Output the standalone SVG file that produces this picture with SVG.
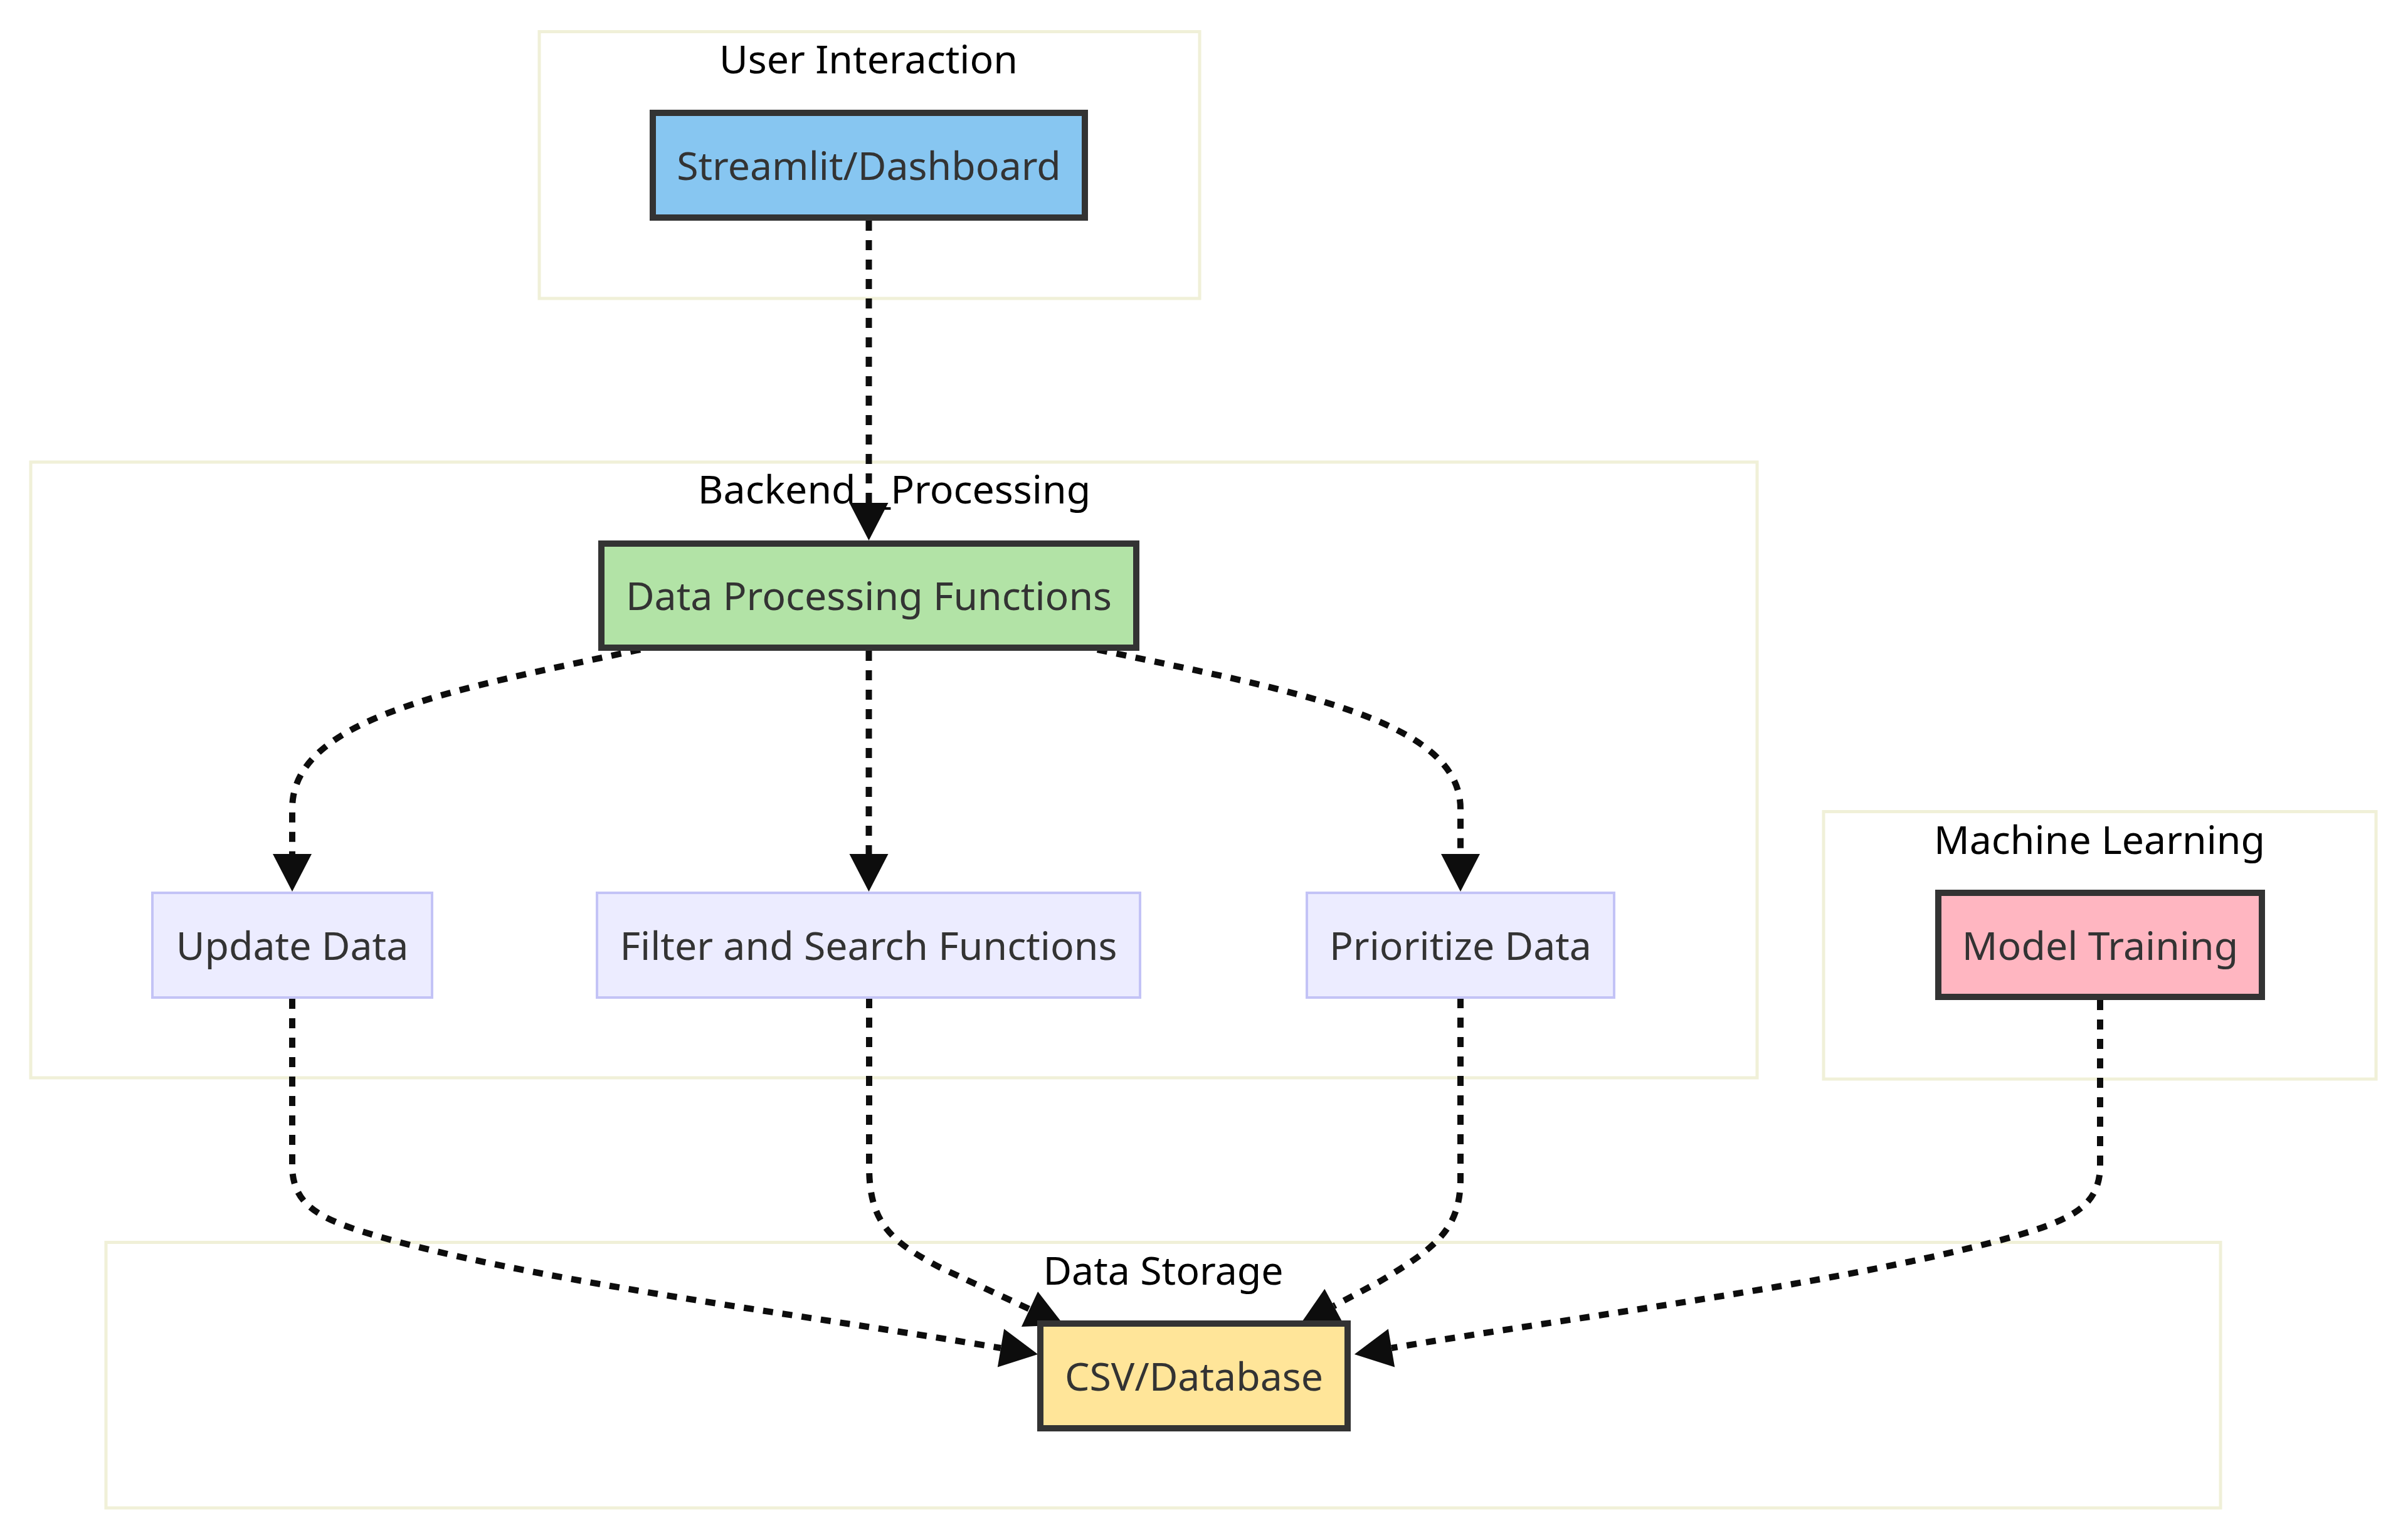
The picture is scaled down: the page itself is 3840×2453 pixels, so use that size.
<svg xmlns="http://www.w3.org/2000/svg" width="3840" height="2453" viewBox="0 0 3840 2453">
<style>
.cluster rect{fill:#ffffff;stroke:#f0f0d8;stroke-width:5}
.ctitle{font-family:"Noto Sans","Open Sans",sans-serif;font-size:62.6px;fill:#000000;text-anchor:middle}
.lbl{font-family:"Noto Sans","Open Sans",sans-serif;font-size:62.6px;fill:#333333;text-anchor:middle}
.node.def rect{fill:#ececff;stroke:#c3c3f6;stroke-width:4}
.node.hl rect{stroke:#333333;stroke-width:10}
.edge{fill:none;stroke:#0d0d0d;stroke-width:10;stroke-dasharray:16 15;marker-end:url(#arr)}
</style>
<defs>
<marker id="arr" markerUnits="userSpaceOnUse" viewBox="0 0 60 62" markerWidth="60" markerHeight="62" refX="0" refY="31" orient="auto" overflow="visible">
<path d="M0,0 L60,31 L0,62 Z" fill="#0d0d0d"/>
</marker>
</defs>
<rect width="3840" height="2453" fill="#ffffff"/>
<g id="clusters">
<g id="cluster-user" class="cluster"><rect x="860" y="50.5" width="1053" height="425.5"/><text class="ctitle" x="1385" y="117">User Interaction</text></g>
<g id="cluster-backend" class="cluster"><rect x="49" y="737" width="2753" height="982"/><text class="ctitle" x="1426" y="803">Backend__Processing</text></g>
<g id="cluster-ml" class="cluster"><rect x="2908" y="1294.5" width="881" height="426.5"/><text class="ctitle" x="3348" y="1362">Machine Learning</text></g>
<g id="cluster-storage" class="cluster"><rect x="169" y="1981.5" width="3372" height="423.5"/><text class="ctitle" x="1855" y="2049">Data Storage</text></g>
</g>
<g id="edges">
<path class="edge" d="M1385.5,352 L1385.5,802"/>
<path class="edge" d="M1021,1036 C721,1100 466,1145 466,1290 L466,1362"/>
<path class="edge" d="M1385.5,1038 L1385.5,1362"/>
<path class="edge" d="M1750,1036 C2050,1100 2329,1145 2329,1290 L2329,1362"/>
<path class="edge" d="M466,1593 L466,1865 C470,1930 520,1950 640,1982 C900,2050 1300,2100 1596,2150"/>
<path class="edge" d="M1386,1592 L1386,1860 C1386,1950 1420,1980 1500,2022 L1642,2088"/>
<path class="edge" d="M2329,1592 L2329,1880 C2329,1960 2290,1990 2200,2044 L2127,2083"/>
<path class="edge" d="M3349,1595 L3349,1865 C3345,1930 3295,1950 3175,1982 C2915,2050 2515,2100 2219,2150"/>
</g>
<g id="nodes">
<g id="node-streamlit" class="node hl"><rect x="1041" y="180" width="689" height="167" fill="#87c6f1"/><text class="lbl" x="1385.5" y="287">Streamlit/Dashboard</text></g>
<g id="node-dataproc" class="node hl"><rect x="959" y="867" width="853" height="166" fill="#b2e3a6"/><text class="lbl" x="1385.5" y="973">Data Processing Functions</text></g>
<g id="node-update" class="node def"><rect x="243" y="1424" width="446" height="167"/><text class="lbl" x="466" y="1531">Update Data</text></g>
<g id="node-filter" class="node def"><rect x="952" y="1424" width="866" height="167"/><text class="lbl" x="1385" y="1531">Filter and Search Functions</text></g>
<g id="node-prioritize" class="node def"><rect x="2084" y="1424" width="490" height="167"/><text class="lbl" x="2329" y="1531">Prioritize Data</text></g>
<g id="node-model" class="node hl"><rect x="3091" y="1424" width="516" height="166" fill="#ffb6c1"/><text class="lbl" x="3349" y="1531">Model Training</text></g>
<g id="node-csv" class="node hl"><rect x="1659" y="2111" width="490" height="167" fill="#ffe599"/><text class="lbl" x="1904" y="2218">CSV/Database</text></g>
</g>
</svg>
